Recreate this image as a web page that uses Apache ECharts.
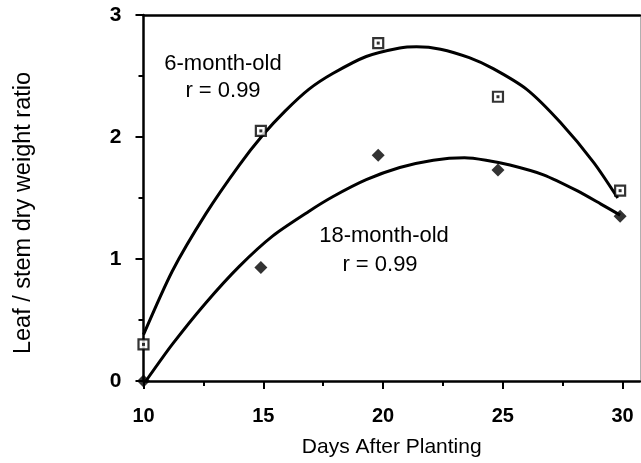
<!DOCTYPE html>
<html>
<head>
<meta charset="utf-8">
<script src="https://cdn.jsdelivr.net/npm/echarts@6/dist/echarts.min.js"></script>
<style>
html,body{margin:0;padding:0;background:#fff;}
#chart{width:641px;height:463px;}
</style>
</head>
<body>
<div id="chart"></div>
<script>
// Observed data points (days after planting, leaf/stem dry weight ratio)
const days = [10, 14.9, 19.8, 24.8, 29.9];
const sixMonth = [0.30, 2.05, 2.77, 2.33, 1.56];
const eighteenMonth = [0.00, 0.93, 1.85, 1.73, 1.35];

// Fitted curves
const sixFitX = [10, 11.2, 12.6, 14.0, 15.0, 15.9, 16.9, 17.9, 19.3, 20.7, 21.4, 22.4, 23.6, 24.6, 26.0, 27.4, 28.8, 29.8];
const sixFitY = [0.38, 0.90, 1.37, 1.77, 2.02, 2.21, 2.39, 2.52, 2.66, 2.73, 2.74, 2.72, 2.65, 2.56, 2.39, 2.12, 1.79, 1.50];
const eighteenFitX = [10.1, 11.2, 12.6, 14.0, 15.4, 16.9, 17.9, 19.3, 20.7, 22.1, 23.4, 24.3, 25.3, 26.7, 28.1, 29.1, 29.9];
const eighteenFitY = [0.00, 0.30, 0.64, 0.94, 1.19, 1.39, 1.51, 1.65, 1.75, 1.81, 1.83, 1.81, 1.77, 1.69, 1.56, 1.45, 1.36];

// Axis ticks
const xMajorTicks = [10, 15, 20, 25, 30];
const xMinorTicks = [12.5, 17.5, 22.5, 27.5];

const zip = (xs, ys) => xs.map((x, i) => [x, ys[i]]);
const FONT = 'Liberation Sans';

const chart = echarts.init(document.getElementById('chart'), null, {renderer: 'canvas'});
const xCommon = {type: 'value', min: 10, max: 30.73, gridIndex: 0, splitLine: {show: false}};
chart.setOption({
  animation: false,
  backgroundColor: '#fff',
  grid: {left: 143.5, right: 1, top: 15, bottom: 76, containLabel: false},
  xAxis: [
    Object.assign({}, xCommon, {
      position: 'bottom',
      name: 'Days After Planting',
      nameLocation: 'middle',
      nameGap: 56,
      nameTextStyle: {fontFamily: FONT, fontSize: 21, color: '#000'},
      axisLine: {show: true, onZero: false, lineStyle: {color: '#000', width: 2.5}},
      axisTick: {show: true, inside: false, length: 8, customValues: xMajorTicks, lineStyle: {color: '#000', width: 2}},
      axisLabel: {show: true, customValues: xMajorTicks, margin: 25, fontFamily: FONT, fontSize: 20, fontWeight: 'bold', color: '#000',
        formatter: v => (xMajorTicks.indexOf(v) >= 0 ? String(v) : '')}
    }),
    Object.assign({}, xCommon, {
      position: 'bottom',
      axisLine: {show: false, onZero: false},
      axisTick: {show: true, inside: false, length: 5, customValues: xMinorTicks, lineStyle: {color: '#000', width: 2}},
      axisLabel: {show: false}
    }),
    Object.assign({}, xCommon, {
      position: 'top',
      axisLine: {show: true, onZero: false, lineStyle: {color: '#000', width: 2.5}},
      axisTick: {show: false},
      axisLabel: {show: false}
    })
  ],
  yAxis: [
    {
      type: 'value', min: 0, max: 3, interval: 1, position: 'left',
      axisLine: {show: true, onZero: false, lineStyle: {color: '#000', width: 2.5}},
      axisTick: {show: true, inside: false, length: 8, lineStyle: {color: '#000', width: 2}},
      minorTick: {show: true, splitNumber: 2, length: 5, lineStyle: {color: '#000', width: 2}},
      axisLabel: {margin: 22, fontFamily: FONT, fontSize: 21, fontWeight: 'bold', color: '#000'},
      splitLine: {show: false}
    },
    {
      type: 'value', min: 0, max: 3, position: 'right',
      axisLine: {show: true, onZero: false, lineStyle: {color: '#b0b0b0', width: 1}},
      axisTick: {show: false}, axisLabel: {show: false}, splitLine: {show: false}
    }
  ],
  graphic: [
    {type: 'text', x: 24, y: 213, rotation: Math.PI / 2,
      style: {text: 'Leaf / stem dry weight ratio', fontFamily: FONT, fontSize: 23.5, fill: '#000', textAlign: 'center', textVerticalAlign: 'middle'}},
    {type: 'text', x: 223, y: 64, style: {text: '6-month-old', fontFamily: FONT, fontSize: 22, fill: '#000', textAlign: 'center', textVerticalAlign: 'middle'}},
    {type: 'text', x: 223, y: 91, style: {text: 'r = 0.99', fontFamily: FONT, fontSize: 22, fill: '#000', textAlign: 'center', textVerticalAlign: 'middle'}},
    {type: 'text', x: 384, y: 236, style: {text: '18-month-old', fontFamily: FONT, fontSize: 22, fill: '#000', textAlign: 'center', textVerticalAlign: 'middle'}},
    {type: 'text', x: 380, y: 265, style: {text: 'r = 0.99', fontFamily: FONT, fontSize: 22, fill: '#000', textAlign: 'center', textVerticalAlign: 'middle'}}
  ],
  series: [
    {type: 'line', name: '6-month-old fit', data: zip(sixFitX, sixFitY), smooth: 0.25, symbol: 'none',
      lineStyle: {color: '#000', width: 3}, z: 2},
    {type: 'line', name: '18-month-old fit', data: zip(eighteenFitX, eighteenFitY), smooth: 0.25, symbol: 'none',
      lineStyle: {color: '#000', width: 3}, z: 2},
    {type: 'scatter', name: '6-month-old', data: zip(days, sixMonth), symbol: 'rect', symbolSize: 10,
      itemStyle: {color: '#fff', borderColor: '#000', borderWidth: 2.2}, z: 5},
    {type: 'scatter', name: '6-month-old centre', data: zip(days, sixMonth), symbol: 'rect', symbolSize: 3,
      itemStyle: {color: '#000'}, z: 6},
    {type: 'scatter', name: '18-month-old', data: zip(days, eighteenMonth), symbol: 'diamond', symbolSize: [13, 13],
      itemStyle: {color: '#000'}, z: 5}
  ]
});
</script>
</body>
</html>
